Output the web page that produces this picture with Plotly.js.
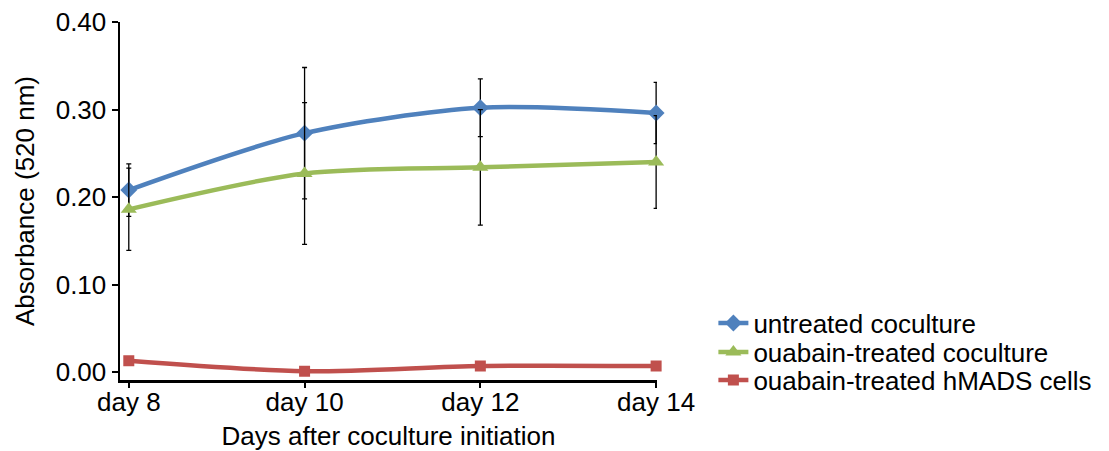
<!DOCTYPE html>
<html>
<head>
<meta charset="utf-8">
<script src="https://cdn.plot.ly/plotly-3.0.1.min.js"></script>
<style>html,body{margin:0;padding:0;background:#fff;}#chart{width:1109px;height:451px;}</style>
</head>
<body>
<div id="chart"></div>
<script>
const categories = ["day 8", "day 10", "day 12", "day 14"];
const seriesNames = ["untreated coculture", "ouabain-treated coculture", "ouabain-treated hMADS cells"];
const untreated = [0.208, 0.273, 0.302, 0.296];
const untreatedErr = [0.030, 0.075, 0.033, 0.035];
const ouabainCoculture = [0.186, 0.227, 0.234, 0.240];
const ouabainCocultureErr = [0.047, 0.081, 0.066, 0.053];
const ouabainHMADS = [0.013, 0.001, 0.007, 0.007];
const yTickVals = [0, 0.1, 0.2, 0.3, 0.4];
const yTickText = ["0.00", "0.10", "0.20", "0.30", "0.40"];

const xIdx = categories.map((c, i) => i);
const font = {family: "Liberation Sans, Arial, sans-serif", size: 26, color: "#000"};

function series(name, y, err, color, symbol, msize, legendId) {
  const t = {
    type: "scatter", mode: "lines+markers", name: name,
    x: xIdx, y: y, legend: legendId,
    line: {color: color, width: 4.5, shape: "spline", smoothing: 0.8},
    marker: {color: color, symbol: symbol, size: msize},
    cliponaxis: false
  };
  if (err) t.error_y = {type: "data", array: err, visible: true, color: "#000", thickness: 1.3, width: 2.5};
  return t;
}

const data = [
  series(seriesNames[0], untreated, untreatedErr, "#4F81BD", "diamond", 13, "legend"),
  series(seriesNames[1], ouabainCoculture, ouabainCocultureErr, "#9BBB59", "triangle-up", 14, "legend2"),
  series(seriesNames[2], ouabainHMADS, null, "#C0504D", "square", 11, "legend3")
];

function legendAt(y) {
  return {x: 1.105, xanchor: "left", y: y, yanchor: "middle", font: font, itemwidth: 30, bgcolor: "rgba(0,0,0,0)"};
}

const layout = {
  width: 1109, height: 451,
  margin: {l: 120, r: 452, t: 22, b: 71},
  paper_bgcolor: "#fff", plot_bgcolor: "#fff",
  font: font,
  showlegend: true,
  legend: legendAt(0.159),
  legend2: legendAt(0.078),
  legend3: legendAt(0.0),
  xaxis: {
    range: [-0.05, 3.005],
    tickmode: "array", tickvals: xIdx, ticktext: categories,
    showline: true, linecolor: "#000", linewidth: 2.5,
    ticks: "outside", ticklen: 5, tickwidth: 2, tickcolor: "#000",
    ticklabelstandoff: -8,
    showgrid: false, zeroline: false,
    tickfont: font,
    title: {text: "Days after coculture initiation", font: font, standoff: 14}
  },
  yaxis: {
    range: [-0.009, 0.4],
    tickmode: "array", tickvals: yTickVals, ticktext: yTickText,
    showline: true, linecolor: "#000", linewidth: 2.5,
    ticks: "outside", ticklen: 6, tickwidth: 2, tickcolor: "#000",
    showgrid: false, zeroline: false,
    tickfont: font,
    title: {text: "Absorbance (520 nm)", font: font, standoff: 14}
  }
};

Plotly.newPlot("chart", data, layout, {displayModeBar: false, staticPlot: true});
</script>
</body>
</html>
